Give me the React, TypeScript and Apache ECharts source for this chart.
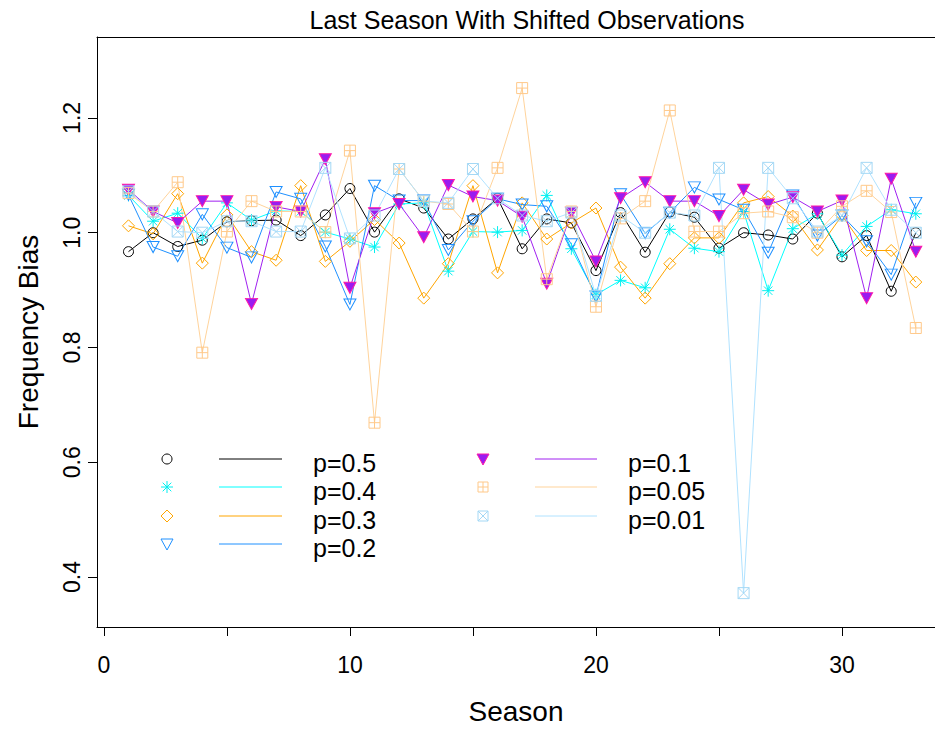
import React, { useEffect, useRef } from "react";
import * as echarts from "echarts";

const FONT = "'Liberation Sans', Arial, Helvetica, sans-serif";

const seasons = [1, 2, 3, 4, 5, 6, 7, 8, 9, 10, 11, 12, 13, 14, 15, 16, 17, 18, 19, 20, 21, 22, 23, 24, 25, 26, 27, 28, 29, 30, 31, 32, 33];

const p05 = [0.967, 1.0, 0.976, 0.987, 1.019, 1.021, 1.022, 0.995, 1.031, 1.077, 1.001, 1.059, 1.043, 0.989, 1.024, 1.06, 0.972, 1.024, 1.017, 0.934, 1.035, 0.966, 1.036, 1.027, 0.973, 1.0, 0.996, 0.989, 1.034, 0.958, 0.995, 0.898, 1.0];
const p04 = [1.065, 1.02, 1.034, 0.99, 1.052, 1.022, 1.038, 1.037, 1.001, 0.989, 0.975, 1.05, 1.052, 0.933, 1.002, 1.001, 1.004, 1.065, 0.972, 0.892, 0.917, 0.904, 1.006, 0.973, 0.967, 1.037, 0.899, 1.007, 1.033, 0.961, 1.011, 1.04, 1.033];
const p03 = [1.012, 0.998, 1.068, 0.947, 1.031, 0.967, 0.952, 1.082, 0.95, 0.985, 1.023, 0.982, 0.886, 0.946, 1.082, 0.93, 1.052, 0.989, 1.017, 1.043, 0.94, 0.886, 0.946, 0.991, 0.991, 1.052, 1.063, 1.029, 0.97, 1.03, 0.969, 0.969, 0.914];
const p02 = [1.066, 0.975, 0.959, 1.032, 0.974, 0.957, 1.071, 1.059, 0.976, 0.875, 1.082, 1.056, 1.056, 0.97, 1.02, 1.059, 1.049, 1.046, 0.98, 0.889, 1.067, 0.999, 1.035, 1.079, 1.058, 1.04, 0.965, 1.065, 0.995, 1.03, 0.985, 0.927, 1.052];
const p01 = [1.075, 1.037, 1.017, 1.055, 1.055, 0.876, 1.045, 1.037, 1.128, 0.904, 1.034, 1.05, 0.992, 1.083, 1.063, 1.056, 1.028, 0.911, 1.035, 0.95, 1.06, 1.088, 1.055, 1.055, 1.029, 1.075, 1.049, 1.062, 1.037, 1.056, 0.886, 1.094, 0.967];
const p005 = [1.069, 1.037, 1.088, 0.791, 1.002, 1.055, 1.037, 1.037, 1.001, 1.143, 0.669, 1.111, 1.055, 1.05, 1.002, 1.113, 1.252, 0.919, 1.037, 0.871, 1.025, 1.055, 1.213, 1.002, 1.002, 1.034, 1.037, 1.027, 1.0, 1.046, 1.073, 1.036, 0.834];
const p001 = [1.072, 1.037, 1.002, 1.0, 1.02, 1.02, 1.002, 1.002, 1.113, 0.99, 1.03, 1.111, 1.055, 1.052, 1.111, 1.06, 1.03, 1.02, 1.035, 0.89, 1.03, 1.0, 1.035, 1.03, 1.113, 0.372, 1.113, 1.06, 1.002, 1.03, 1.113, 1.04, 1.0];

const legendLabels = ["p=0.5", "p=0.4", "p=0.3", "p=0.2", "p=0.1", "p=0.05", "p=0.01"];
const xTicks = [0, 5, 10, 15, 20, 25, 30];
const xTickLabels = [0, 10, 20, 30];
const yTicks = [0.4, 0.6, 0.8, 1.0, 1.2];

const TITLE = "Last Season With Shifted Observations";
const X_NAME = "Season";
const Y_NAME = "Frequency Bias";

const X_MIN = -0.28;
const X_MAX = 33.78;
const Y_MIN = 0.313;
const Y_MAX = 1.341;

const PATH_ASTERISK = "path://M10,0L10,20M0,10L20,10M3,3L17,17M3,17L17,3";
const PATH_TRI_DOWN = "path://M0,0L20,0L10,18Z";
const PATH_SQ_PLUS = "path://M0,0L20,0L20,20L0,20ZM10,0L10,20M0,10L20,10";
const PATH_SQ_X = "path://M0,0L20,0L20,20L0,20ZM0,0L20,20M0,20L20,0";

type Def = {
  values: number[];
  line: string;
  stroke: string;
  fill: string;
  symbol: string;
  size: number | number[];
  kind: string;
};

const defs: Def[] = [
  { values: p05, line: "#000000", stroke: "#000000", fill: "rgba(0,0,0,0)", symbol: "circle", size: 10, kind: "circle" },
  { values: p04, line: "#00ffff", stroke: "#00f0f0", fill: "rgba(0,0,0,0)", symbol: PATH_ASTERISK, size: 12, kind: "asterisk" },
  { values: p03, line: "#ffa500", stroke: "#ffa500", fill: "rgba(0,0,0,0)", symbol: "diamond", size: 12, kind: "diamond" },
  { values: p02, line: "#1e90ff", stroke: "#1e90ff", fill: "rgba(0,0,0,0)", symbol: PATH_TRI_DOWN, size: [12, 11], kind: "tri" },
  { values: p01, line: "#a020f0", stroke: "#ff1aa8", fill: "#9a1cf0", symbol: PATH_TRI_DOWN, size: [12, 11], kind: "triFilled" },
  { values: p005, line: "#ffd39b", stroke: "#ffc98a", fill: "rgba(0,0,0,0)", symbol: PATH_SQ_PLUS, size: 11, kind: "sqPlus" },
  { values: p001, line: "#b0e2ff", stroke: "#a4d8f5", fill: "rgba(0,0,0,0)", symbol: PATH_SQ_X, size: 11, kind: "sqX" },
];

function legendSymbol(kind: string, cx: number, cy: number, stroke: string, fill: string): any[] {
  const ln = (x1: number, y1: number, x2: number, y2: number) => ({
    type: "line",
    shape: { x1, y1, x2, y2 },
    style: { stroke, lineWidth: 1 },
  });
  switch (kind) {
    case "circle":
      return [{ type: "circle", shape: { cx, cy, r: 5 }, style: { fill: "none", stroke, lineWidth: 1 } }];
    case "asterisk":
      return [ln(cx, cy - 6, cx, cy + 6), ln(cx - 6, cy, cx + 6, cy), ln(cx - 4.3, cy - 4.3, cx + 4.3, cy + 4.3), ln(cx - 4.3, cy + 4.3, cx + 4.3, cy - 4.3)];
    case "diamond":
      return [{ type: "polygon", shape: { points: [[cx, cy - 6], [cx + 6, cy], [cx, cy + 6], [cx - 6, cy]] }, style: { fill: "none", stroke, lineWidth: 1 } }];
    case "tri":
      return [{ type: "polygon", shape: { points: [[cx - 6, cy - 5], [cx + 6, cy - 5], [cx, cy + 6]] }, style: { fill: "none", stroke, lineWidth: 1 } }];
    case "triFilled":
      return [{ type: "polygon", shape: { points: [[cx - 6, cy - 5], [cx + 6, cy - 5], [cx, cy + 6]] }, style: { fill, stroke, lineWidth: 1 } }];
    case "sqPlus":
      return [
        { type: "rect", shape: { x: cx - 5, y: cy - 5, width: 10, height: 10 }, style: { fill: "none", stroke, lineWidth: 1 } },
        ln(cx, cy - 5, cx, cy + 5),
        ln(cx - 5, cy, cx + 5, cy),
      ];
    case "sqX":
      return [
        { type: "rect", shape: { x: cx - 5, y: cy - 5, width: 10, height: 10 }, style: { fill: "none", stroke, lineWidth: 1 } },
        ln(cx - 5, cy - 5, cx + 5, cy + 5),
        ln(cx - 5, cy + 5, cx + 5, cy - 5),
      ];
  }
  return [];
}

function buildLegend(): any[] {
  const out: any[] = [];
  const rows = [459, 487, 516, 544];
  defs.forEach((d, i) => {
    const col = i < 4 ? 0 : 1;
    const row = i < 4 ? i : i - 4;
    const y = rows[row];
    const sx = col === 0 ? 167 : 483;
    const lx1 = col === 0 ? 219 : 535;
    const lx2 = col === 0 ? 282 : 597;
    const tx = col === 0 ? 313 : 628;
    out.push(...legendSymbol(d.kind, sx, y, d.stroke, d.fill));
    out.push({ type: "line", shape: { x1: lx1, y1: y, x2: lx2, y2: y }, style: { stroke: d.line, lineWidth: 1 } });
    out.push({
      type: "text",
      x: tx,
      y: y + 4,
      style: { text: legendLabels[i], fill: "#000", font: `25px ${FONT}`, textAlign: "left", textVerticalAlign: "middle" },
    });
  });
  return out;
}

export default function App() {
  const ref = useRef<HTMLDivElement>(null);
  useEffect(() => {
    if (!ref.current) return;
    const chart = echarts.init(ref.current, undefined, { renderer: "svg" });
    const series = defs.map((d, i) => ({
      type: "line",
      name: legendLabels[i],
      data: seasons.map((s, k) => [s, d.values[k]]),
      symbol: d.symbol,
      symbolSize: d.size,
      showSymbol: true,
      showAllSymbol: true,
      silent: true,
      lineStyle: { color: d.line, width: 1 },
      itemStyle: { color: d.fill, borderColor: d.stroke, borderWidth: 1 },
      emphasis: { disabled: true },
      z: 2,
    }));
    chart.setOption({
      animation: false,
      textStyle: { fontFamily: FONT },
      grid: { left: 97, right: 0, top: 37, bottom: 103, containLabel: false },
      xAxis: [
        {
          type: "value",
          min: X_MIN,
          max: X_MAX,
          position: "bottom",
          axisLine: { show: true, onZero: false, lineStyle: { color: "#000", width: 1 } },
          axisTick: { show: true, length: 9, inside: false, customValues: xTicks, lineStyle: { color: "#000", width: 1 } },
          axisLabel: { show: true, customValues: xTickLabels, fontSize: 23, color: "#000", margin: 26, fontFamily: FONT, formatter: (v: number) => String(v) },
          splitLine: { show: false },
          name: X_NAME,
          nameLocation: "middle",
          nameGap: 70,
          nameTextStyle: { fontSize: 28, color: "#000", fontFamily: FONT },
        },
        {
          type: "value",
          min: X_MIN,
          max: X_MAX,
          position: "top",
          axisLine: { show: true, onZero: false, lineStyle: { color: "#000", width: 1 } },
          axisTick: { show: false },
          axisLabel: { show: false },
          splitLine: { show: false },
        },
      ],
      yAxis: {
        type: "value",
        min: Y_MIN,
        max: Y_MAX,
        axisLine: { show: true, onZero: false, lineStyle: { color: "#000", width: 1 } },
        axisTick: { show: true, length: 9, inside: false, customValues: yTicks, lineStyle: { color: "#000", width: 1 } },
        axisLabel: { show: true, customValues: yTicks, rotate: 90, fontSize: 23, color: "#000", margin: 14, fontFamily: FONT, formatter: (v: number) => v.toFixed(1) },
        splitLine: { show: false },
        name: Y_NAME,
        nameLocation: "middle",
        nameRotate: 90,
        nameGap: 55,
        nameTextStyle: { fontSize: 28, color: "#000", fontFamily: FONT },
      },
      series,
      graphic: [
        {
          type: "text",
          x: 527,
          y: 20,
          style: { text: TITLE, fill: "#000", font: `25px ${FONT}`, textAlign: "center", textVerticalAlign: "middle" },
        },
        ...buildLegend(),
      ],
    });
    return () => chart.dispose();
  }, []);
  return <div ref={ref} style={{ position: "absolute", left: 0, top: 0, width: 935, height: 730 }} />;
}
